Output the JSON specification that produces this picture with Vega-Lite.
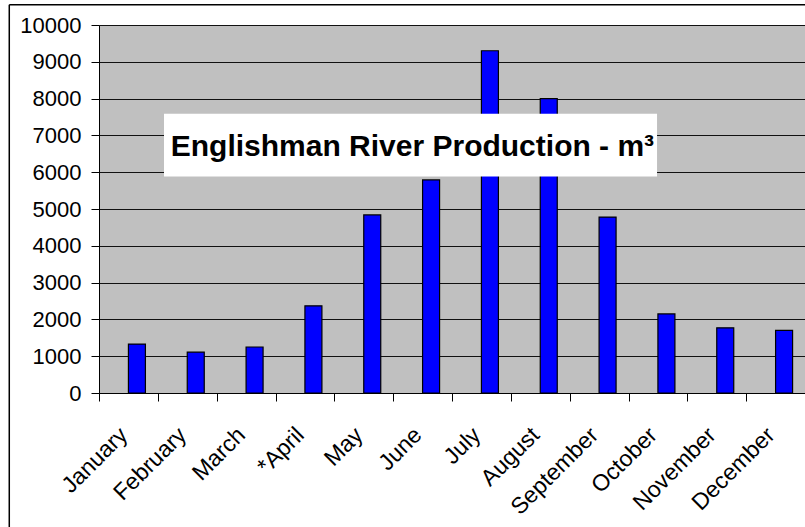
{
  "$schema": "https://vega.github.io/schema/vega-lite/v6.json",
  "width": 706,
  "height": 368,
  "autosize": "none",
  "padding": {"left": 99, "top": 25, "right": 0, "bottom": 134},
  "background": "white",
  "config": {"view": {"fill": "#C0C0C0", "stroke": null}, "font": "Liberation Sans"},
  "data": {
    "values": [
      {"month": "January", "production": 1330},
      {"month": "February", "production": 1110},
      {"month": "March", "production": 1250},
      {"month": "*April", "production": 2370},
      {"month": "May", "production": 4840},
      {"month": "June", "production": 5790},
      {"month": "July", "production": 9300},
      {"month": "August", "production": 8000},
      {"month": "September", "production": 4780},
      {"month": "October", "production": 2150},
      {"month": "November", "production": 1770},
      {"month": "December", "production": 1700}
    ]
  },
  "layer": [
    {
      "mark": {"type": "bar", "fill": "#0000FF", "stroke": "#000000", "strokeWidth": 1.2, "width": 17, "xOffset": 8.5},
      "encoding": {
        "x": {
          "field": "month", "type": "nominal", "sort": null,
          "scale": {"paddingInner": 0, "paddingOuter": 0},
          "axis": {"title": null, "labelAngle": -45, "labelAlign": "right", "labelBaseline": "alphabetic", "labelFontSize": 23, "labelColor": "#000000", "labelPadding": 35, "tickSize": 8, "tickBand": "extent", "tickColor": "#000000", "domainColor": "#000000", "labelOverlap": false, "labelBound": false, "labelFlush": false, "grid": false}
        },
        "y": {
          "field": "production", "type": "quantitative",
          "scale": {"domain": [0, 10000], "nice": false},
          "axis": {"title": null, "format": "d", "values": [0, 1000, 2000, 3000, 4000, 5000, 6000, 7000, 8000, 9000, 10000], "tickCount": 20, "labelOverlap": false, "labelFontSize": 22, "labelColor": "#000000", "labelPadding": 10, "tickSize": 8, "tickColor": "#000000", "domainColor": "#000000", "gridColor": "#111111", "gridOpacity": 1}
        }
      }
    },
    {
      "data": {"values": [{}]},
      "mark": {"type": "rect", "fill": "white"},
      "encoding": {
        "x": {"datum": 1.105, "type": "quantitative", "scale": {"domain": [0, 12], "nice": false, "zero": false}, "axis": null},
        "x2": {"datum": 9.485},
        "y": {"datum": 7590, "type": "quantitative", "scale": {"domain": [0, 10000], "nice": false}, "axis": {"title": null, "format": "d", "values": [0, 1000, 2000, 3000, 4000, 5000, 6000, 7000, 8000, 9000, 10000], "tickCount": 20, "labelOverlap": false, "labelFontSize": 22, "labelColor": "#000000", "labelPadding": 10, "tickSize": 8, "tickColor": "#000000", "domainColor": "#000000", "gridColor": "#111111", "gridOpacity": 1}},
        "y2": {"datum": 5880}
      }
    },
    {
      "data": {"values": [{}]},
      "mark": {"type": "text", "text": "Englishman River Production - m³", "font": "Liberation Sans", "fontWeight": "bold", "fontSize": 30, "align": "center", "baseline": "alphabetic", "color": "#000000"},
      "encoding": {
        "x": {"datum": 5.327, "type": "quantitative", "scale": {"domain": [0, 12], "nice": false, "zero": false}, "axis": null},
        "y": {"datum": 6429, "type": "quantitative", "scale": {"domain": [0, 10000], "nice": false}, "axis": {"title": null, "format": "d", "values": [0, 1000, 2000, 3000, 4000, 5000, 6000, 7000, 8000, 9000, 10000], "tickCount": 20, "labelOverlap": false, "labelFontSize": 22, "labelColor": "#000000", "labelPadding": 10, "tickSize": 8, "tickColor": "#000000", "domainColor": "#000000", "gridColor": "#111111", "gridOpacity": 1}}
      }
    },
    {
      "data": {"values": [{}]},
      "mark": {"type": "rule", "color": "#000000", "strokeWidth": 1.5, "clip": false},
      "encoding": {
        "x": {"datum": -1.525, "type": "quantitative", "scale": {"domain": [0, 12], "nice": false, "zero": false}, "axis": null},
        "y": {"datum": 10552, "type": "quantitative", "scale": {"domain": [0, 10000], "nice": false}, "axis": {"title": null, "format": "d", "values": [0, 1000, 2000, 3000, 4000, 5000, 6000, 7000, 8000, 9000, 10000], "tickCount": 20, "labelOverlap": false, "labelFontSize": 22, "labelColor": "#000000", "labelPadding": 10, "tickSize": 8, "tickColor": "#000000", "domainColor": "#000000", "gridColor": "#111111", "gridOpacity": 1}},
        "y2": {"datum": -3700}
      }
    },
    {
      "data": {"values": [{}]},
      "mark": {"type": "rule", "color": "#000000", "strokeWidth": 1.5, "clip": false},
      "encoding": {
        "x": {"datum": -1.525, "type": "quantitative", "scale": {"domain": [0, 12], "nice": false, "zero": false}, "axis": null},
        "x2": {"datum": 12.5},
        "y": {"datum": 10552, "type": "quantitative", "scale": {"domain": [0, 10000], "nice": false}, "axis": {"title": null, "format": "d", "values": [0, 1000, 2000, 3000, 4000, 5000, 6000, 7000, 8000, 9000, 10000], "tickCount": 20, "labelOverlap": false, "labelFontSize": 22, "labelColor": "#000000", "labelPadding": 10, "tickSize": 8, "tickColor": "#000000", "domainColor": "#000000", "gridColor": "#111111", "gridOpacity": 1}}
      }
    }
  ],
  "resolve": {"scale": {"x": "independent"}}
}
